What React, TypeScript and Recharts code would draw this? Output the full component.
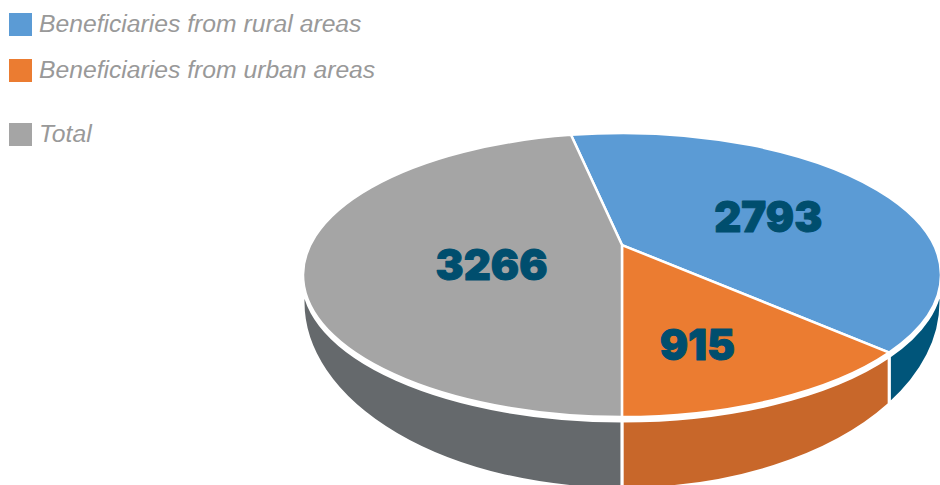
import React from 'react';
import { PieChart, Pie, Legend } from 'recharts';

const groups = ['Beneficiaries from rural areas', 'Beneficiaries from urban areas', 'Total'];
const counts = [2793, 915, 3266];
const faceColors = ['#5B9BD5', '#EB7C31', '#A5A5A5'];
const wallColors = ['#00557A', '#C8672A', '#65696C'];

// how far each value label sits from the middle of its slice
const labelNudge = [
  [23, 2],
  [-2, 22],
  [28, 13],
];

const faceData = groups.map((name, i) => ({ name, value: counts[i], fill: faceColors[i] }));
const wallData = groups.map((name, i) => ({ name, value: counts[i], fill: wallColors[i] }));

const CX = 622;
const CY = 275;
const RADIUS = 319;
const SQUASH = 142 / 319; // tilt of the disc
const APEX = -0.211; // perspective: the pie's centre sits above the middle of the ellipse
const WALL_GAP = 4;
const WALL_SHIFT = 27; // lower rim is a deeper ellipse than the top one
const WALL_EXTRA = 45;
const START = 101.4;

const rad = (deg: number) => (deg * Math.PI) / 180;

// Maps a pie angle to the angle on the ellipse once perspective is applied.
const warp = (deg: number) => {
  const c = Math.cos(rad(deg));
  const s = -Math.sin(rad(deg));
  const w = 1 + APEX * s;
  const y = (s + APEX) / w;
  const x = (c * Math.sqrt(1 - APEX * APEX)) / w;
  const out = (-Math.atan2(y, x) * 180) / Math.PI;
  return out + 360 * Math.round((deg - out) / 360);
};

const FaceSlice = (props: any) => {
  const { cx, cy, outerRadius: r, startAngle, endAngle, fill } = props;
  const ry = r * SQUASH;
  const a0 = warp(startAngle);
  const a1 = warp(endAngle);
  const x0 = cx + r * Math.cos(rad(a0));
  const y0 = cy - ry * Math.sin(rad(a0));
  const x1 = cx + r * Math.cos(rad(a1));
  const y1 = cy - ry * Math.sin(rad(a1));
  const large = Math.abs(a0 - a1) > 180 ? 1 : 0;
  const d = `M${cx},${cy + APEX * ry} L${x0},${y0} A${r},${ry} 0 ${large} 1 ${x1},${y1} Z`;
  return <path d={d} fill={fill} stroke="#fff" strokeWidth={2.5} strokeLinejoin="miter" />;
};

// side of the disc: only the part of a slice facing the viewer (angles 0 to -180)
const WallSlice = (props: any) => {
  const { cx, cy, outerRadius: r, startAngle, endAngle, fill } = props;
  const a0 = Math.min(warp(startAngle), 0);
  const a1 = Math.max(warp(endAngle), -180);
  if (a0 <= a1) return null;
  const ry = r * SQUASH;
  const topY = cy + WALL_GAP;
  const lowY = cy + WALL_SHIFT;
  const lowRy = ry + WALL_EXTRA;
  const px = (a: number) => cx + r * Math.cos(rad(a));
  const d =
    `M${px(a0)},${topY - ry * Math.sin(rad(a0))} ` +
    `A${r},${ry} 0 0 1 ${px(a1)},${topY - ry * Math.sin(rad(a1))} ` +
    `L${px(a1)},${lowY - lowRy * Math.sin(rad(a1))} ` +
    `A${r},${lowRy} 0 0 0 ${px(a0)},${lowY - lowRy * Math.sin(rad(a0))} Z`;
  return <path d={d} fill={fill} stroke="#fff" strokeWidth={3} />;
};

const ValueLabel = (props: any) => {
  const { cx, cy, outerRadius: r, midAngle, value, index } = props;
  const ry = r * SQUASH;
  const mid = warp(midAngle);
  const apexY = cy + APEX * ry;
  const x = (cx + (cx + r * Math.cos(rad(mid)))) / 2 + labelNudge[index][0];
  const y = (apexY + (cy - ry * Math.sin(rad(mid)))) / 2 + labelNudge[index][1];
  return (
    <text
      x={x}
      y={y}
      textAnchor="middle"
      dominantBaseline="central"
      fontFamily="Inter, sans-serif"
      fontWeight={900}
      fontSize={42}
      fill="#004E6E"
      stroke="#004E6E"
      strokeWidth={1}
      strokeLinejoin="round"
    >
      {value}
    </text>
  );
};

const legendGaps = [0, 46, 64];

const LegendList = ({ payload }: any) => (
  <div>
    {(payload || [])
      .filter((item: any) => faceColors.includes(item.color))
      .map((item: any, i: number) => (
        <div
          key={item.value}
          style={{
            display: 'flex',
            alignItems: 'center',
            height: 23,
            marginTop: i === 0 ? 13 : legendGaps[i] - 23,
            marginLeft: 9,
          }}
        >
          <span style={{ width: 23, height: 23, background: item.color, marginRight: 7 }} />
          <span
            style={{
              fontFamily: '"Liberation Sans", Arial, sans-serif',
              fontStyle: 'italic',
              fontSize: 24.7,
              color: '#999999',
              whiteSpace: 'nowrap',
              position: 'relative',
              top: -1,
            }}
          >
            {item.value}
          </span>
        </div>
      ))}
  </div>
);

const App = () => (
  <div style={{ position: 'absolute', left: 0, top: 0 }}>
    <PieChart width={940} height={485} margin={{ top: 0, right: 0, bottom: 0, left: 0 }}>
      {/* centred + vertical keeps the legend from taking space away from the pie */}
      <Legend
        layout="vertical"
        align="center"
        verticalAlign="middle"
        itemSorter={null}
        wrapperStyle={{ left: 0, top: 0, width: 420 }}
        content={<LegendList />}
      />
      <Pie
        data={wallData}
        dataKey="value"
        nameKey="name"
        cx={CX}
        cy={CY}
        outerRadius={RADIUS}
        startAngle={START}
        endAngle={START - 360}
        shape={WallSlice}
        legendType="none"
        isAnimationActive={false}
      />
      <Pie
        data={faceData}
        dataKey="value"
        nameKey="name"
        cx={CX}
        cy={CY}
        outerRadius={RADIUS}
        startAngle={START}
        endAngle={START - 360}
        shape={FaceSlice}
        label={ValueLabel}
        labelLine={false}
        isAnimationActive={false}
      />
    </PieChart>
  </div>
);

export default App;
